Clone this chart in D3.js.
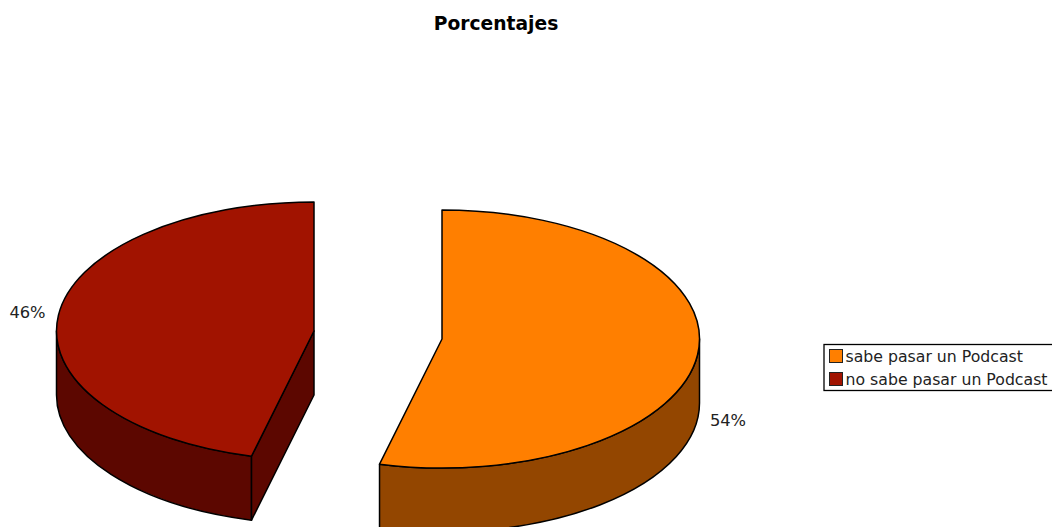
<!DOCTYPE html>
<html><head><meta charset="utf-8">
<script src="https://cdnjs.cloudflare.com/ajax/libs/d3/7.8.5/d3.min.js"></script>
<style>html,body{margin:0;padding:0;background:#fff}svg{display:block}text{font-family:"DejaVu Sans",sans-serif;fill:#222}</style>
</head><body><svg id="c" width="1052" height="527"></svg>
<script>
const categories = ["sabe pasar un Podcast", "no sabe pasar un Podcast"];
const values = [53.9, 46.1];
const valueLabels = ["54%", "46%"];
const topColors = ["#ff7f00", "#a11300"];
const sideColors = ["#934600", "#5c0700"];

const svg = d3.select("#c");
const rx = 257.5, ry = 129, depth = 64;
const centers = [{x:442,y:339},{x:314,y:331}];
const labelPos = [{x:728,y:426},{x:27.5,y:318}];
const pie = d3.pie().sort(null).value(d=>d);
const arcs = pie(values);

const pt = (c,a,dy=0)=>[c.x+rx*Math.sin(a), c.y-ry*Math.cos(a)+dy];
const arcTo = (c,a0,a1,dy=0)=>{
  const p=pt(c,a1,dy), large=Math.abs(a1-a0)>Math.PI?1:0, sweep=a1>a0?1:0;
  return `A${rx},${ry} 0 ${large} ${sweep} ${p[0]},${p[1]}`;
};
const stroke = {stroke:"#000","stroke-width":1.5,"stroke-linejoin":"round"};
function add(d,fill){
  const s=svg.append("path").attr("d",d).attr("fill",fill);
  Object.entries(stroke).forEach(([k,v])=>s.attr(k,v));
}

arcs.forEach((s,i)=>{
  const c=centers[i];
  const a0=Math.max(s.startAngle,Math.PI/2), a1=Math.min(s.endAngle,3*Math.PI/2);
  const p0=pt(c,a0), p0b=pt(c,a0,depth), p1=pt(c,a1);
  add(`M${p0}L${p0b}${arcTo(c,a0,a1,depth)}L${p1}${arcTo(c,a1,a0)}Z`, sideColors[i]);
  if(s.startAngle>Math.PI){
    const e=pt(c,s.startAngle);
    add(`M${c.x},${c.y}L${c.x},${c.y+depth}L${e[0]},${e[1]+depth}L${e}Z`, sideColors[i]);
  }
});
arcs.forEach((s,i)=>{
  const c=centers[i], p0=pt(c,s.startAngle);
  add(`M${c.x},${c.y}L${p0}${arcTo(c,s.startAngle,s.endAngle)}Z`, topColors[i]);
});

svg.append("g").selectAll("text").data(valueLabels).join("text")
  .attr("x",(d,i)=>labelPos[i].x).attr("y",(d,i)=>labelPos[i].y)
  .attr("text-anchor","middle").attr("font-size",16.3).text(d=>d);

svg.append("text").attr("x",496).attr("y",30).attr("text-anchor","middle")
  .attr("font-size",18.7).attr("font-weight","bold").style("fill","#000").text("Porcentajes");

const lg=svg.append("g");
lg.append("rect").attr("x",824).attr("y",344.5).attr("width",240).attr("height",46)
  .attr("fill","#fff").attr("stroke","#000").attr("stroke-width",1.3);
const rowY=d3.scalePoint().domain(categories).range([356,379]);
categories.forEach((t,i)=>{
  lg.append("rect").attr("x",829.5).attr("y",rowY(t)-6.5).attr("width",13).attr("height",13)
    .attr("fill",topColors[i]).attr("stroke","#222").attr("stroke-width",1);
  lg.append("text").attr("x",845.5).attr("y",rowY(t)+5.7).attr("font-size",15.72).text(t);
});
</script></body></html>
